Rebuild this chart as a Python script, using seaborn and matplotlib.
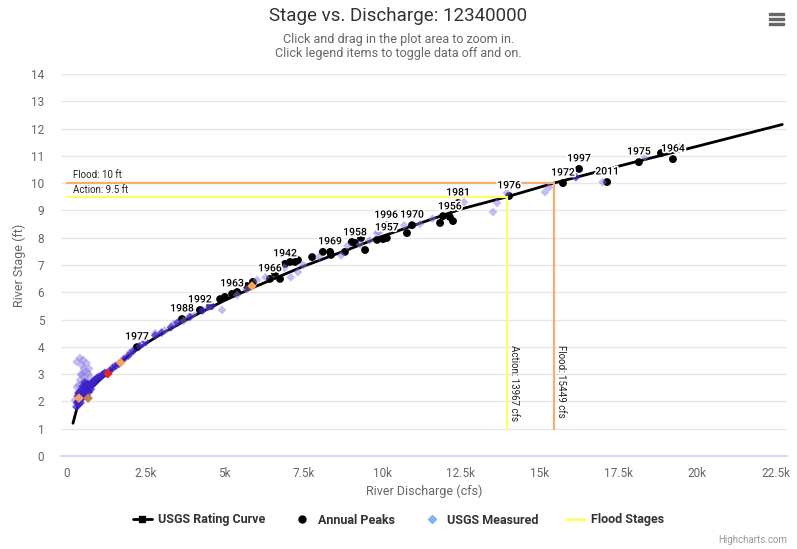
import numpy as np
import pandas as pd
import seaborn as sns
import matplotlib.pyplot as plt
from matplotlib.lines import Line2D
from matplotlib.patches import Rectangle
import matplotlib.patheffects as pe

# rating curve (cfs, ft)
rating_q = [190, 300, 400, 500, 750, 1000, 1300, 1680, 2000, 2210, 2500, 3000, 4000,
            5000, 6000, 7500, 9000, 10000, 12500, 13967, 15449, 17500, 20000, 22700]
rating_stage = [1.2, 1.68, 1.98, 2.18, 2.47, 2.75, 3.05, 3.42, 3.72, 3.9, 4.12, 4.48, 5.12,
                5.7, 6.22, 6.95, 7.6, 8.05, 9.05, 9.5, 10.0, 10.62, 11.35, 12.15]

# annual peaks
peak_q = [2220, 3650, 4220, 4540, 4860, 5010, 5240, 5400, 5710, 5900, 6440, 6600, 6760,
          6920, 7080, 7240, 7330, 7780, 8120, 8350, 8380, 8820, 9040, 9140, 9330, 9460,
          9840, 10030, 10150, 10130, 10790, 10950, 11840, 11930, 12150, 12250, 12410,
          14030, 15740, 16250, 17140, 18150, 18850, 19230]
peak_stage = [3.99, 5.02, 5.35, 5.50, 5.75, 5.83, 5.94, 6.01, 6.23, 6.38, 6.49, 6.71, 6.49,
              7.04, 7.11, 7.11, 7.18, 7.29, 7.48, 7.48, 7.37, 7.48, 7.84, 7.81, 7.99, 7.55,
              7.92, 7.95, 7.99, 8.45, 8.17, 8.46, 8.54, 8.79, 8.76, 8.61, 9.27,
              9.53, 10.0, 10.52, 10.04, 10.77, 11.10, 10.88]
peak_year = ["1977", "1988", "1992", "", "", "", "1963", "", "", "", "1966", "", "",
             "1942", "", "", "", "", "", "1969", "", "", "", "1958", "", "",
             "", "", "1957", "1996", "", "1970", "", "", "1956", "", "1981",
             "1976", "1972", "1997", "2011", "1975", "", "1964"]

# USGS measured - older (light) points
old_q = [310, 410, 510, 620, 470, 570, 670, 410, 510, 310, 620, 350, 730, 470, 250, 540,
         440, 600, 380, 700, 560, 450,
         1500, 2000, 2400, 2800, 3100, 3400, 3700, 4000, 4500, 4920, 5400, 5700, 6030,
         6300, 6900, 7100, 7330, 7500, 8000, 8700, 8900, 9300, 9600, 9840, 9900, 10350,
         10700, 11200, 11600, 12600, 13520, 13650, 13960, 15170, 15300, 17000, 18340, 19450]
old_stage = [3.45, 3.59, 3.52, 3.40, 3.33, 3.08, 3.04, 2.78, 2.67, 2.53, 2.49, 2.31, 2.90,
             2.97, 2.05, 3.20, 3.00, 2.75, 2.60, 3.20, 2.90, 2.45,
             3.30, 3.80, 4.10, 4.50, 4.60, 4.85, 4.95, 5.20, 5.45, 5.35, 5.90, 6.10, 6.45,
             6.55, 6.90, 6.55, 6.74, 7.00, 7.30, 7.35, 7.70, 7.75, 7.90, 8.17, 8.20, 8.46,
             8.45, 8.50, 8.70, 9.30, 8.94, 9.27, 9.64, 9.67, 9.85, 10.04, 10.96, 11.32]

# USGS measured - recent (dark) points
new_q = [300, 320, 350, 380, 400, 420, 450, 480, 500, 520, 550, 580, 600, 620, 650, 680,
         700, 720, 750, 780, 800, 850, 880, 900, 950, 1000, 1050, 1100, 1150, 1200, 1250,
         1350, 1450, 1550, 1650, 1800, 1950, 2100, 2300, 2500, 2800, 3000, 3300, 3500,
         3900, 4300, 4600, 340, 400, 460, 530, 590, 650, 500, 560, 430, 370, 620, 700,
         760, 16150]
new_stage = [1.80, 1.95, 2.00, 1.90, 2.10, 2.05, 2.20, 2.15, 2.25, 2.18, 2.30, 2.25, 2.40,
             2.35, 2.45, 2.55, 2.50, 2.60, 2.55, 2.65, 2.70, 2.75, 2.68, 2.80, 2.85, 2.90,
             2.88, 2.95, 3.00, 3.05, 3.02, 3.12, 3.22, 3.30, 3.38, 3.55, 3.68, 3.85, 4.02,
             4.18, 4.42, 4.52, 4.72, 4.88, 5.10, 5.33, 5.50, 2.20, 2.35, 2.40, 2.50, 2.60,
             2.65, 2.55, 2.70, 1.95, 2.30, 2.20, 2.35, 2.45, 10.22]

# highlighted measurements
hi_q = [380, 670, 1300, 1700, 5870]
hi_stage = [2.12, 2.12, 3.02, 3.42, 6.23]
hi_kind = ["orange", "brown", "red", "orange", "orange"]

# flood stages
stage_names = ["Flood", "Action"]
stage_ft = [10, 9.5]
stage_cfs = [15449, 13967]
stage_colors = ["#f8ad6c", "#ffff66"]

x_ticks = [0, 2500, 5000, 7500, 10000, 12500, 15000, 17500, 20000, 22500]
x_tick_labels = ["0", "2.5k", "5k", "7.5k", "10k", "12.5k", "15k", "17.5k", "20k", "22.5k"]
y_ticks = list(range(0, 15))

sns.set_theme(style="white")
plt.rcParams["font.family"] = ["Roboto", "DejaVu Sans"]

fig = plt.figure(figsize=(7.97, 5.49), dpi=100)
ax = fig.add_axes([61 / 797, 1 - 456 / 549, (787 - 61) / 797, (456 - 74) / 549])

sns.lineplot(x=rating_q, y=rating_stage, color="black", linewidth=2, ax=ax, zorder=2)
sns.scatterplot(x=peak_q, y=peak_stage, color="black", s=32, edgecolor="none",
                ax=ax, zorder=3, legend=False)
sns.scatterplot(x=old_q, y=old_stage, marker="D", color="#8f78e6", alpha=0.5, s=20,
                edgecolor="none", ax=ax, zorder=4, legend=False)
sns.scatterplot(x=new_q, y=new_stage, marker="D", color="#3b22c9", alpha=0.75, s=20,
                edgecolor="none", ax=ax, zorder=4, legend=False)
sns.scatterplot(x=hi_q, y=hi_stage, hue=hi_kind, marker="D", s=24, edgecolor="none",
                palette={"orange": "#f7a35c", "brown": "#c08050", "red": "#e4252b"},
                ax=ax, zorder=5, legend=False)

for name, ft, cfs, col in zip(stage_names, stage_ft, stage_cfs, stage_colors):
    ax.plot([0, cfs, cfs], [ft, ft, 1], color=col, linewidth=1.6, zorder=5)
    ax.text(cfs + 230, 4.07, f"{name}: {cfs} cfs", rotation=-90, ha="center", va="top",
            fontsize=7, color="#222222", zorder=6)
ax.text(190, 10.12, "Flood: 10 ft", fontsize=7, color="#222222", va="bottom", zorder=6)
ax.text(190, 9.58, "Action: 9.5 ft", fontsize=7, color="#222222", va="bottom", zorder=6)

for q, s, yr in zip(peak_q, peak_stage, peak_year):
    if yr:
        ax.annotate(yr, (q, s), xytext=(0, 4), textcoords="offset points", ha="center",
                    va="bottom", fontsize=7.5, fontweight="medium", color="black", zorder=7,
                    path_effects=[pe.withStroke(linewidth=2.5, foreground="white")])

ax.set_xlim(-190, 22850)
ax.set_ylim(0, 14)
ax.set_xticks(x_ticks)
ax.set_xticklabels(x_tick_labels)
ax.set_yticks(y_ticks)
ax.grid(axis="y", color="#e6e6e6", linewidth=1)
ax.set_axisbelow(True)
for side in ["left", "top", "right"]:
    ax.spines[side].set_visible(False)
ax.spines["bottom"].set_color("#ccd6eb")
ax.tick_params(axis="x", colors="#666666", labelsize=8.5, length=6, color="#ccd6eb", pad=2)
ax.tick_params(axis="y", colors="#666666", labelsize=8.5, length=0, pad=12)
for lab in ax.get_xticklabels() + ax.get_yticklabels():
    lab.set_color("#666666")
ax.set_xlabel("River Discharge (cfs)", fontsize=9, color="#666666", labelpad=3)
ax.set_ylabel("River Stage (ft)", fontsize=9, color="#666666", labelpad=4)

fig.text(0.5, 1 - 16 / 549, "Stage vs. Discharge: 12340000", ha="center", va="center",
         fontsize=13.5, color="#333333")
fig.text(0.5, 1 - 40 / 549, "Click and drag in the plot area to zoom in.", ha="center",
         va="center", fontsize=9, color="#666666")
fig.text(0.5, 1 - 54 / 549, "Click legend items to toggle data off and on.", ha="center",
         va="center", fontsize=9, color="#666666")
fig.text(787 / 797, 1 - 540 / 549, "Highcharts.com", ha="right", va="center",
         fontsize=7, color="#999999")

# export menu icon
for yy in [14, 19, 24]:
    fig.patches.append(Rectangle((769 / 797, 1 - (yy + 1.3) / 549), 15 / 797, 2.6 / 549,
                                 transform=fig.transFigure, color="#666666"))

handles = [
    Line2D([], [], color="black", linewidth=2, marker="s", markersize=4),
    Line2D([], [], color="black", linestyle="none", marker="o", markersize=5),
    Line2D([], [], color="#7cb5ec", linestyle="none", marker="D", markersize=4),
    Line2D([], [], color="#ffff66", linewidth=2),
]
leg = fig.legend(handles, ["USGS Rating Curve", "Annual Peaks", "USGS Measured", "Flood Stages"],
                 loc="center", bbox_to_anchor=(0.5, 1 - 520 / 549), ncol=4, frameon=False,
                 fontsize=9, handlelength=1.5, columnspacing=2.2, handletextpad=0.5)
for t in leg.get_texts():
    t.set_color("#333333")
    t.set_fontweight("bold")

fig.savefig("out.png", dpi=100)
